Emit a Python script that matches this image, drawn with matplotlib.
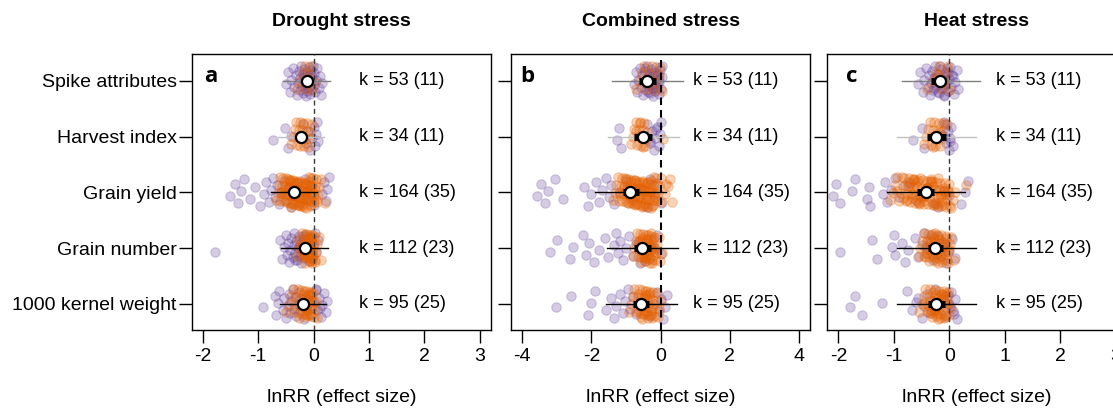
import numpy as np
import matplotlib
matplotlib.use("Agg")
import matplotlib.pyplot as plt

plt.rcParams['font.family'] = ['Liberation Sans', 'DejaVu Sans']
plt.rcParams['axes.unicode_minus'] = False

outcomes = ["Spike attributes", "Harvest index", "Grain yield", "Grain number", "1000 kernel weight"]
k_text = ["k = 53 (11)", "k = 34 (11)", "k = 164 (35)", "k = 112 (23)", "k = 95 (25)"]
panel_titles = ["Drought stress", "Combined stress", "Heat stress"]
panel_letters = ["a", "b", "c"]

# ---- drought ----
drought_mean = [-0.11, -0.22, -0.36, -0.16, -0.19]
drought_ci_low = [-0.17, -0.29, -0.42, -0.22, -0.26]
drought_ci_high = [-0.05, -0.15, -0.30, -0.10, -0.12]
drought_pi_low = [-0.55, -0.64, -0.77, -0.58, -0.60]
drought_pi_high = [0.29, 0.19, 0.07, 0.26, 0.23]
drought_purple = [
    [-0.50, -0.46, -0.43, -0.40, -0.37, -0.35, -0.32, -0.30, -0.28, -0.27, -0.25, -0.24, -0.22, -0.21,
     -0.20, -0.19, -0.18, -0.17, -0.16, -0.15, -0.14, -0.13, -0.12, -0.11, -0.10, -0.09, -0.08, -0.07,
     -0.06, -0.05, -0.04, -0.03, -0.02, -0.01, 0.00, 0.01, 0.03, 0.05, 0.07, 0.09, 0.11, 0.13, 0.16],
    [-0.73, -0.52, -0.47, -0.41, -0.20, -0.14, -0.10, -0.06, -0.03, 0.00, 0.02, 0.04, 0.06, 0.08],
    [-1.50, -1.42, -1.36, -1.31, -1.26, -1.14, -1.05, -0.96, -0.90, -0.86, -0.81, -0.77, -0.73, -0.70,
     -0.66, -0.62, -0.58, -0.54, -0.50, -0.45, -0.40, -0.35, -0.30, -0.25, -0.20, -0.15, -0.10, -0.05,
     0.00, 0.16, 0.19, 0.22, 0.25, 0.28],
    [-1.77, -0.60, -0.57, -0.53, -0.50, -0.48, -0.46, -0.44, -0.42, -0.40, -0.38, -0.36, -0.35, -0.33,
     -0.31, -0.30, -0.28, -0.27, -0.25, -0.24, -0.22, -0.21, -0.19, -0.18, -0.16, -0.15, -0.13, -0.11,
     -0.09, -0.07, -0.05, -0.03, -0.01, 0.02, 0.05, 0.08, -0.34, -0.26, -0.20, -0.12],
    [-0.92, -0.70, -0.68, -0.65, -0.62, -0.55, -0.53, -0.50, -0.47, -0.45, -0.42, -0.40, -0.37, -0.35,
     -0.33, -0.31, -0.29, -0.27, -0.25, -0.22, -0.18, -0.14, -0.10, -0.05, 0.00, 0.04, 0.07, 0.10,
     0.13, 0.16, 0.19, 0.22, 0.25, 0.05, 0.12],
]
drought_orange = [
    [-0.30, -0.24, -0.19, -0.16, -0.13, -0.10, -0.08, -0.05, -0.02, 0.02],
    [-0.40, -0.37, -0.34, -0.32, -0.30, -0.28, -0.27, -0.25, -0.24, -0.22, -0.21, -0.19, -0.18, -0.16,
     -0.14, -0.12, -0.10, -0.08, -0.06, -0.03],
    [-0.68, -0.65, -0.63, -0.61, -0.60, -0.58, -0.57, -0.55, -0.54, -0.53, -0.52, -0.50, -0.49, -0.48,
     -0.47, -0.46, -0.45, -0.44, -0.43, -0.42, -0.41, -0.40, -0.39, -0.38, -0.37, -0.36, -0.35, -0.34,
     -0.33, -0.32, -0.31, -0.30, -0.29, -0.28, -0.27, -0.26, -0.25, -0.24, -0.23, -0.22, -0.21, -0.20,
     -0.19, -0.18, -0.17, -0.16, -0.15, -0.14, -0.13, -0.12, -0.11, -0.10, -0.09, -0.08, -0.07, -0.06,
     -0.05, -0.04, -0.03, -0.02, -0.01, 0.00, 0.01, 0.02, 0.04, 0.06, 0.08, 0.10, 0.14, 0.20,
     -0.52, -0.47, -0.43, -0.38, -0.33, -0.29, -0.24, -0.20, -0.16, -0.12, -0.08, -0.04, -0.01, 0.03,
     -0.36, -0.27, -0.18, -0.09, -0.45, -0.06, -0.22, -0.31, -0.14, -0.40, 0.05, -0.56],
    [-0.30, -0.26, -0.23, -0.21, -0.19, -0.17, -0.16, -0.15, -0.14, -0.13, -0.12, -0.11, -0.10, -0.09,
     -0.08, -0.07, -0.06, -0.05, -0.04, -0.03, -0.02, -0.01, 0.00, 0.01, 0.02, 0.04, 0.06, 0.09, 0.13,
     -0.18, -0.14, -0.10, -0.06, -0.02, -0.12, -0.08, -0.04, -0.20, -0.24, -0.28, 0.03, -0.16, -0.11,
     -0.07, -0.03, -0.13, -0.09, -0.05, -0.15, -0.01],
    [-0.50, -0.45, -0.41, -0.38, -0.35, -0.33, -0.31, -0.29, -0.27, -0.25, -0.24, -0.22, -0.21, -0.19,
     -0.18, -0.17, -0.16, -0.15, -0.14, -0.13, -0.12, -0.11, -0.10, -0.09, -0.08, -0.07, -0.06, -0.05,
     -0.04, -0.03, -0.02, -0.01, 0.00, 0.02, 0.04, -0.20, -0.16, -0.12, -0.08, -0.04, -0.26, -0.14,
     -0.10, -0.06, 0.06],
]

# ---- combined ----
combined_mean = [-0.38, -0.50, -0.87, -0.54, -0.56]
combined_ci_low = [-0.62, -0.76, -1.10, -0.76, -0.81]
combined_ci_high = [-0.14, -0.26, -0.62, -0.29, -0.33]
combined_pi_low = [-1.40, -1.53, -1.88, -1.56, -1.58]
combined_pi_high = [0.65, 0.53, 0.16, 0.50, 0.48]
combined_purple = [
    [-0.76, -0.72, -0.68, -0.64, -0.60, -0.57, -0.54, -0.51, -0.48, -0.45, -0.42, -0.40, -0.38, -0.36,
     -0.34, -0.32, -0.30, -0.28, -0.26, -0.24, -0.22, -0.20, -0.18, -0.16, -0.14, -0.12, -0.10, -0.08,
     -0.06, -0.04, -0.02, 0.00, 0.03, 0.05, -0.25, -0.15, -0.35, -0.05, -0.45, -0.19],
    [-1.27, -1.20, -1.14, -0.45, -0.38, -0.32, -0.26, -0.20, -0.15, -0.10, -0.06, -0.02, 0.02, -0.30, -0.12],
    [-3.58, -3.44, -3.34, -3.25, -3.06, -2.82, -2.20, -2.10, -2.02, -1.86, -1.78, -1.68, -1.58, -1.50,
     -1.42, -1.35, -1.20, -1.00, -0.80, -0.60, -0.40, -0.20, -0.10, 0.00, -0.70, -0.30],
    [-3.20, -3.00, -2.63, -2.53, -2.24, -2.15, -2.08, -1.91, -1.78, -1.62, -1.52, -1.34, -1.28, -1.22,
     -1.17, -1.10, -1.00, -0.92, -0.80, -0.70, -0.60, -0.50, -0.40, -0.30, -0.20, -0.10, 0.00, -0.65,
     -0.45, -0.25],
    [-3.03, -2.58, -2.10, -2.00, -1.90, -1.58, -1.43, -1.36, -1.30, -1.18, -1.10, -1.02, -0.95, -0.88,
     -0.80, -0.30, -0.20, -0.10, -0.05, 0.00, 0.06, 0.12, 0.19, -0.70, -0.60],
]
combined_orange = [
    [-0.70, -0.62, -0.55, -0.48, -0.42, -0.36, -0.30, -0.24, -0.18, -0.12, -0.06, -0.01, 0.04],
    [-0.85, -0.80, -0.76, -0.72, -0.68, -0.65, -0.62, -0.59, -0.56, -0.53, -0.50, -0.47, -0.44, -0.41,
     -0.70, -0.60, -0.52, 0.08, -0.38],
    [-1.38, -1.33, -1.28, -1.24, -1.21, -1.18, -1.15, -1.12, -1.10, -1.07, -1.05, -1.02, -1.00, -0.98,
     -0.96, -0.94, -0.92, -0.90, -0.88, -0.86, -0.84, -0.82, -0.80, -0.78, -0.76, -0.74, -0.72, -0.70,
     -0.68, -0.66, -0.64, -0.62, -0.60, -0.58, -0.56, -0.54, -0.52, -0.50, -0.48, -0.46, -0.44, -0.42,
     -0.40, -0.38, -0.36, -0.34, -0.32, -0.30, -0.28, -0.26, -0.24, -0.22, -0.20, -0.18, -0.16, -0.14,
     -0.12, -0.10, -0.07, -0.04, 0.00, 0.05, 0.12, 0.20, 0.28, 0.33,
     -1.16, -1.06, -0.99, -0.93, -0.87, -0.81, -0.75, -0.69, -0.63, -0.57, -0.51, -0.45, -0.39, -0.33,
     -0.27, -0.21, -0.15, -0.97, -0.85, -0.73, -0.61, -0.49, -0.37, -0.25, -0.91, -0.79, -0.67, -0.55,
     -0.43, -0.31, 0.15],
    [-0.80, -0.76, -0.72, -0.69, -0.66, -0.63, -0.61, -0.59, -0.57, -0.55, -0.53, -0.51, -0.49, -0.47,
     -0.45, -0.43, -0.41, -0.39, -0.37, -0.35, -0.33, -0.31, -0.29, -0.27, -0.25, -0.23, -0.21, -0.19,
     -0.16, -0.13, -0.10, -0.06, -0.02, 0.03, -0.62, -0.54, -0.46, -0.38, -0.30, -0.22, -0.58, -0.50,
     -0.42, -0.34, -0.26, -0.18, -0.48, -0.40, -0.32, -0.44, -0.36, -0.56, -0.28, -0.52, -0.15],
    [-0.90, -0.85, -0.80, -0.76, -0.72, -0.69, -0.66, -0.63, -0.60, -0.58, -0.56, -0.54, -0.52, -0.50,
     -0.48, -0.46, -0.44, -0.42, -0.40, -0.38, -0.36, -0.34, -0.32, -0.30, -0.28, -0.26, -0.24, -0.22,
     -0.20, -0.17, -0.14, -0.11, -0.08, -0.04, 0.00, -0.65, -0.57, -0.49, -0.41, -0.33, -0.25, -0.61,
     -0.53, -0.45, -0.37, -0.29, -0.47, -0.39, -0.55, -0.43],
]

# ---- heat ----
heat_mean = [-0.17, -0.23, -0.42, -0.25, -0.23]
heat_ci_low = [-0.32, -0.41, -0.58, -0.38, -0.38]
heat_ci_high = [-0.05, -0.05, -0.28, -0.11, -0.08]
heat_pi_low = [-0.86, -0.94, -1.13, -0.95, -0.94]
heat_pi_high = [0.55, 0.48, 0.28, 0.48, 0.48]
heat_purple = [
    [-0.56, -0.52, -0.48, -0.45, -0.42, -0.39, -0.37, -0.35, -0.33, -0.31, -0.29, -0.27, -0.25, -0.23,
     -0.21, -0.19, -0.17, -0.15, -0.13, -0.11, -0.09, -0.07, -0.05, -0.03, -0.01, 0.01, 0.03, 0.05,
     0.08, 0.11, 0.14, 0.16, -0.24, -0.16, -0.08, -0.02, -0.20, -0.12, -0.04, -0.28, 0.06, -0.10],
    [-0.65, -0.50, -0.46, -0.12, -0.08, -0.05, -0.02, 0.00, 0.02, 0.04, 0.06, -0.15, -0.10, 0.01],
    [-2.09, -2.05, -1.97, -1.76, -1.70, -1.49, -1.45, -1.43, -1.19, -1.16, -1.13, -1.05, -0.98, -0.90,
     -0.80, 0.22, 0.28, 0.34, -0.60, -0.40, -0.20, 0.00, -0.70, -0.30, -0.10],
    [-1.97, -1.40, -1.31, -1.04, -1.00, -0.98, -0.86, -0.80, -0.74, -0.62, -0.56, -0.50, -0.45, -0.40,
     -0.35, -0.30, -0.25, -0.20, -0.15, -0.10, -0.05, 0.00, 0.05, 0.10, -0.42, -0.32, -0.22, -0.12],
    [-1.79, -1.70, -1.58, -1.22, -0.77, -0.68, -0.56, -0.50, -0.45, -0.40, -0.35, -0.30, -0.25, -0.20,
     -0.12, -0.06, 0.00, 0.03, 0.06, 0.10, 0.14, 0.02, -0.02, 0.08, -0.60],
]
heat_orange = [
    [-0.40, -0.30, -0.24, -0.18, -0.14, -0.10, -0.06, -0.02, 0.02, -0.12, -0.20],
    [-0.45, -0.42, -0.38, -0.35, -0.33, -0.31, -0.29, -0.27, -0.25, -0.23, -0.21, -0.19, -0.17, -0.15,
     -0.13, -0.11, -0.30, -0.24, -0.18, -0.04],
    [-1.07, -1.02, -0.98, -0.94, -0.90, -0.87, -0.84, -0.81, -0.78, -0.76, -0.74, -0.72, -0.70, -0.68,
     -0.66, -0.64, -0.62, -0.60, -0.58, -0.56, -0.54, -0.52, -0.50, -0.48, -0.46, -0.44, -0.42, -0.40,
     -0.38, -0.36, -0.34, -0.32, -0.30, -0.28, -0.26, -0.24, -0.22, -0.20, -0.18, -0.16, -0.14, -0.12,
     -0.10, -0.08, -0.06, -0.04, -0.02, 0.00, 0.03, 0.06, 0.10, 0.31,
     -0.85, -0.77, -0.69, -0.61, -0.53, -0.45, -0.37, -0.29, -0.21, -0.13, -0.05, -0.73, -0.65, -0.57,
     -0.49, -0.41, -0.33, -0.25, -0.17, -0.09, -0.63, -0.55, -0.47, -0.39, -0.31, -0.23, -0.15, -0.43,
     -0.35, -0.27, -0.51, -0.19, -0.59, -0.11, -0.67, -0.03, -0.75, 0.01, -0.83, -0.95],
    [-0.55, -0.52, -0.49, -0.46, -0.44, -0.42, -0.40, -0.38, -0.36, -0.34, -0.32, -0.30, -0.28, -0.26,
     -0.24, -0.22, -0.20, -0.18, -0.16, -0.14, -0.12, -0.10, -0.08, -0.06, -0.04, -0.02, 0.01, 0.04,
     0.08, -0.41, -0.35, -0.29, -0.23, -0.17, -0.11, -0.05, -0.37, -0.31, -0.25, -0.19, -0.13, -0.07,
     -0.33, -0.27, -0.21, -0.15, -0.09, -0.39, -0.03, -0.29, -0.23, -0.17, -0.25, -0.45, 0.00],
    [-0.55, -0.50, -0.46, -0.43, -0.40, -0.38, -0.36, -0.34, -0.32, -0.30, -0.28, -0.26, -0.24, -0.22,
     -0.20, -0.18, -0.16, -0.14, -0.12, -0.10, -0.08, -0.06, -0.04, -0.02, 0.00, 0.03, -0.35, -0.29,
     -0.23, -0.17, -0.11, -0.05, -0.31, -0.25, -0.19, -0.13, -0.07, -0.27, -0.21, -0.15, -0.09, -0.33,
     -0.03, -0.23, -0.17, -0.39, -0.45, -0.12, -0.20, -0.26],
]

PURPLE = "#5E3C99"
ORANGE = "#E66101"
PI_COLORS = ["#7f7f7f", "#c0c0c0", "black", "black", "black"]


def jitter(n, step):
    # spread points vertically inside a row, deterministic
    return ((np.arange(1, n + 1) * step) % 1.0 - 0.5) * 0.56


def draw_panel(ax, mean, ci_lo, ci_hi, pi_lo, pi_hi, purple, orange,
               xlim, xticks, title, letter, letter_x, k_x, dash_col, dash_lw, labels):
    for i in range(len(outcomes)):
        xp = np.array(purple[i])
        ax.scatter(xp, i + jitter(len(xp), 0.6180339887), s=46, color=PURPLE,
                   alpha=0.26, linewidths=0.8, zorder=2)
        xo = np.array(orange[i])
        ax.scatter(xo, i + jitter(len(xo), 0.7548776662), s=46, color=ORANGE,
                   alpha=0.28, linewidths=0.8, zorder=2)

    ax.axvline(0, color=dash_col, lw=dash_lw, ls=(0, (3.6, 2.4)), zorder=3)

    for i in range(len(outcomes)):
        ax.plot([pi_lo[i], pi_hi[i]], [i, i], color=PI_COLORS[i], lw=1.0, zorder=4)
        ax.plot([ci_lo[i], ci_hi[i]], [i, i], color="black", lw=5, zorder=5,
                solid_capstyle="butt")
        ax.plot(mean[i], i, "o", ms=8, mfc="white", mec="black", mew=1.6, zorder=6)
        ax.text(k_x, i, k_text[i], ha="left", va="center", fontsize=13)

    ax.set_xlim(*xlim)
    ax.set_ylim(4.47, -0.48)
    ax.set_xticks(xticks)
    ax.set_xticklabels([str(t) for t in xticks])
    ax.set_yticks(range(len(outcomes)))
    if labels:
        ax.set_yticklabels(outcomes)
    else:
        ax.set_yticklabels([])
    ax.tick_params(axis="x", length=9, width=1, pad=4, labelsize=14)
    ax.tick_params(axis="y", length=9.4, width=1, pad=1.5, labelsize=14)
    for sp in ax.spines.values():
        sp.set_linewidth(1.0)

    ax.text(letter_x, -0.07, letter, ha="center", va="center", fontsize=16,
            fontweight="bold", family=["Open Sans", "DejaVu Sans"])
    ax.text(0.5, 1.116, title, transform=ax.transAxes, ha="center", va="center",
            fontsize=14, fontweight="bold")
    ax.text(0.5, -0.246, "lnRR (effect size)", transform=ax.transAxes,
            ha="center", va="center", fontsize=14)


fig = plt.figure(figsize=(11.13, 4.12), dpi=100)
ax_a = fig.add_axes([0.1722, 0.199, 0.2689, 0.670])
ax_b = fig.add_axes([0.4591, 0.199, 0.2689, 0.670])
ax_c = fig.add_axes([0.7433, 0.199, 0.2689, 0.670])

draw_panel(ax_a, drought_mean, drought_ci_low, drought_ci_high, drought_pi_low, drought_pi_high,
           drought_purple, drought_orange, (-2.2, 3.2), [-2, -1, 0, 1, 2, 3],
           panel_titles[0], panel_letters[0], -1.86, 0.82, "#3a3a3a", 1.0, True)
draw_panel(ax_b, combined_mean, combined_ci_low, combined_ci_high, combined_pi_low, combined_pi_high,
           combined_purple, combined_orange, (-4.32, 4.32), [-4, -2, 0, 2, 4],
           panel_titles[1], panel_letters[1], -3.86, 0.94, "black", 1.5, False)
draw_panel(ax_c, heat_mean, heat_ci_low, heat_ci_high, heat_pi_low, heat_pi_high,
           heat_purple, heat_orange, (-2.2, 3.2), [-2, -1, 0, 1, 2, 3],
           panel_titles[2], panel_letters[2], -1.75, 0.84, "#3a3a3a", 1.0, False)

fig.savefig("out.png", dpi=100)
